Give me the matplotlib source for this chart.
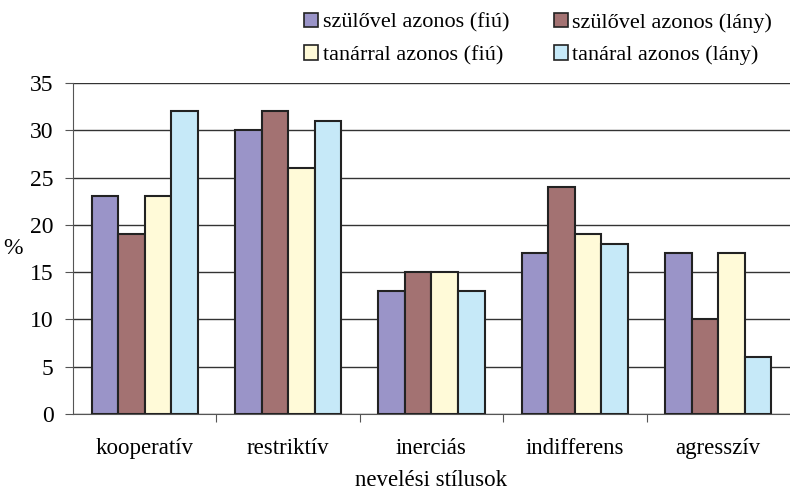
import numpy as np
import matplotlib.pyplot as plt
from matplotlib.patches import Patch

plt.rcParams['font.family'] = ['Liberation Serif', 'DejaVu Serif']

categories = ['kooperatív', 'restriktív', 'inerciás', 'indifferens', 'agresszív']
series_names = ['szülővel azonos (fiú)', 'szülővel azonos (lány)',
                'tanárral azonos (fiú)', 'tanáral azonos (lány)']
szulo_fiu = [23, 30, 13, 17, 17]
szulo_lany = [19, 32, 15, 24, 10]
tanar_fiu = [23, 26, 15, 19, 17]
tanar_lany = [32, 31, 13, 18, 6]
colors = ['#9a94c8', '#a37272', '#fffad8', '#c6e9f8']

values = [szulo_fiu, szulo_lany, tanar_fiu, tanar_lany]

fig = plt.figure(figsize=(7.9, 4.92), dpi=100)
ax = fig.add_axes([0.0924, 0.1585, 0.9076, 0.6728])

x = np.arange(len(categories))
w = 0.185
for i, vals in enumerate(values):
    ax.bar(x + (i - 1.5) * w, vals, w, color=colors[i], edgecolor='#222222',
           linewidth=1.5, zorder=3, label=series_names[i])

ax.set_xlim(-0.5, len(categories) - 0.5)
ax.set_ylim(0, 35)
ax.set_yticks(range(0, 36, 5))
ax.yaxis.grid(True, color='#333333', linewidth=1.0, zorder=0)
ax.set_axisbelow(True)

# boundary ticks without labels, category labels on minor ticks
ax.set_xticks(np.arange(0.5, len(categories) - 0.5, 1))
ax.set_xticklabels([])
ax.set_xticks(x, minor=True)
ax.set_xticklabels(categories, minor=True, fontsize=16.5)
ax.tick_params(axis='x', which='minor', length=0, pad=17)
ax.tick_params(axis='x', which='major', length=6, color='#555555', direction='out')
ax.tick_params(axis='y', labelsize=17, length=6, color='#555555', pad=8)

for s in ['top', 'right']:
    ax.spines[s].set_visible(False)
ax.spines['left'].set_color('#555555')
ax.spines['bottom'].set_color('#555555')

ax.set_ylabel('%', fontsize=17, rotation=0, labelpad=12, va='center')
ax.set_xlabel('nevelési stílusok', fontsize=16.5, labelpad=8)

# legend filled row by row
order = [0, 2, 1, 3]
handles = [Patch(facecolor=colors[i], edgecolor='#222222', linewidth=1.2) for i in order]
fig.legend(handles, [series_names[i] for i in order], ncol=2, frameon=False,
           fontsize=16, loc='upper right', bbox_to_anchor=(1.003, 1.015),
           handlelength=0.65, handleheight=0.65, handletextpad=0.2,
           columnspacing=2.0, labelspacing=0.55)

fig.savefig('out.png', dpi=100)
